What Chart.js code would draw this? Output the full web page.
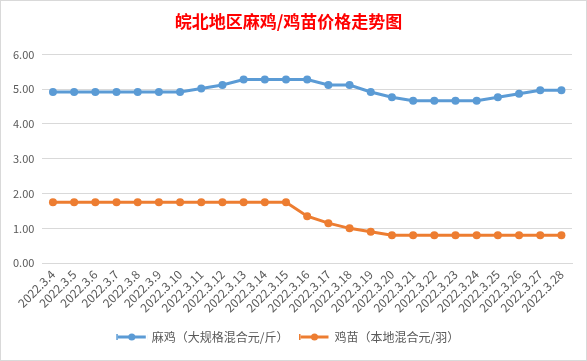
<!DOCTYPE html>
<html>
<head>
<meta charset="utf-8">
<script src="https://cdn.jsdelivr.net/npm/chart.js@4"></script>
<style>
    html, body { margin: 0; padding: 0; background: #fff; }
    #wrap { width: 585px; height: 359px; border: 1px solid #d9d9d9; position: relative; }
</style>
</head>
<body>
<div id="wrap"><canvas id="priceChart"></canvas></div>
<script>
const dates = ['2022.3.4', '2022.3.5', '2022.3.6', '2022.3.7', '2022.3.8', '2022.3.9', '2022.3.10',
    '2022.3.11', '2022.3.12', '2022.3.13', '2022.3.14', '2022.3.15', '2022.3.16', '2022.3.17',
    '2022.3.18', '2022.3.19', '2022.3.20', '2022.3.21', '2022.3.22', '2022.3.23', '2022.3.24',
    '2022.3.25', '2022.3.26', '2022.3.27', '2022.3.28'];

const maji = [4.92, 4.92, 4.92, 4.92, 4.92, 4.92, 4.92, 5.02, 5.12, 5.28, 5.28, 5.28, 5.28, 5.12,
    5.12, 4.92, 4.77, 4.67, 4.67, 4.67, 4.67, 4.77, 4.87, 4.97, 4.97];

const jimiao = [1.75, 1.75, 1.75, 1.75, 1.75, 1.75, 1.75, 1.75, 1.75, 1.75, 1.75, 1.75, 1.35, 1.15,
    1.00, 0.90, 0.80, 0.80, 0.80, 0.80, 0.80, 0.80, 0.80, 0.80, 0.80];

const seriesNames = ['麻鸡（大规格混合元/斤）', '鸡苗（本地混合元/羽）'];
const yTicks = [0, 1, 2, 3, 4, 5, 6];

const BLUE = '#5B9BD5';
const ORANGE = '#ED7D31';
const FONT = "'Noto Sans CJK SC', 'Noto Sans', sans-serif";

// legend marker: short line with a dot, like the spreadsheet legend
const lineDotLegend = {
    id: 'lineDotLegend',
    afterDraw(chart) {
        const legend = chart.legend;
        if (!legend || !legend.legendHitBoxes) return;
        const ctx = chart.ctx;
        legend.legendHitBoxes.forEach((box, i) => {
            const ds = chart.data.datasets[i];
            const y = box.top + box.height / 2;
            ctx.save();
            ctx.fillStyle = '#fff';
            ctx.fillRect(box.left, box.top, 30, box.height);
            ctx.strokeStyle = ds.borderColor;
            ctx.lineWidth = 3;
            ctx.beginPath();
            ctx.moveTo(box.left, y);
            ctx.lineTo(box.left + 28, y);
            ctx.stroke();
            ctx.fillStyle = ds.borderColor;
            ctx.beginPath();
            ctx.arc(box.left + 14, y, 3.5, 0, Math.PI * 2);
            ctx.fill();
            ctx.restore();
        });
    }
};

new Chart(document.getElementById('priceChart'), {
    type: 'line',
    data: {
        labels: dates,
        datasets: [
            {
                label: seriesNames[0],
                data: maji,
                borderColor: BLUE,
                backgroundColor: BLUE,
                borderWidth: 3,
                pointRadius: 4,
                pointBorderWidth: 0,
                tension: 0
            },
            {
                label: seriesNames[1],
                data: jimiao,
                borderColor: ORANGE,
                backgroundColor: ORANGE,
                borderWidth: 3,
                pointRadius: 4,
                pointBorderWidth: 0,
                tension: 0
            }
        ]
    },
    options: {
        responsive: true,
        maintainAspectRatio: false,
        animation: false,
        layout: { padding: { left: 4, right: 14, top: 0, bottom: 7 } },
        plugins: {
            title: {
                display: true,
                text: '皖北地区麻鸡/鸡苗价格走势图',
                color: '#FF0000',
                font: { family: FONT, size: 17, weight: 'bold' },
                padding: { top: 10, bottom: 23 }
            },
            legend: {
                position: 'bottom',
                labels: {
                    color: '#595959',
                    font: { family: FONT, size: 12 },
                    boxWidth: 28,
                    boxHeight: 3,
                    padding: 12
                }
            },
            tooltip: { enabled: false }
        },
        scales: {
            x: {
                offset: true,
                grid: { display: false, drawTicks: false },
                border: { color: '#d9d9d9' },
                ticks: {
                    color: '#595959',
                    font: { family: FONT, size: 12 },
                    maxRotation: 45,
                    minRotation: 45,
                    autoSkip: false,
                    padding: 4
                }
            },
            y: {
                min: yTicks[0],
                max: yTicks[yTicks.length - 1],
                afterBuildTicks: (axis) => { axis.ticks = yTicks.map(v => ({ value: v })); },
                grid: { color: '#d9d9d9', drawTicks: false },
                border: { display: false },
                ticks: {
                    color: '#595959',
                    font: { family: FONT, size: 11 },
                    padding: 8,
                    callback: (v) => Number(v).toFixed(2)
                }
            }
        }
    },
    plugins: [lineDotLegend]
});
</script>
</body>
</html>
